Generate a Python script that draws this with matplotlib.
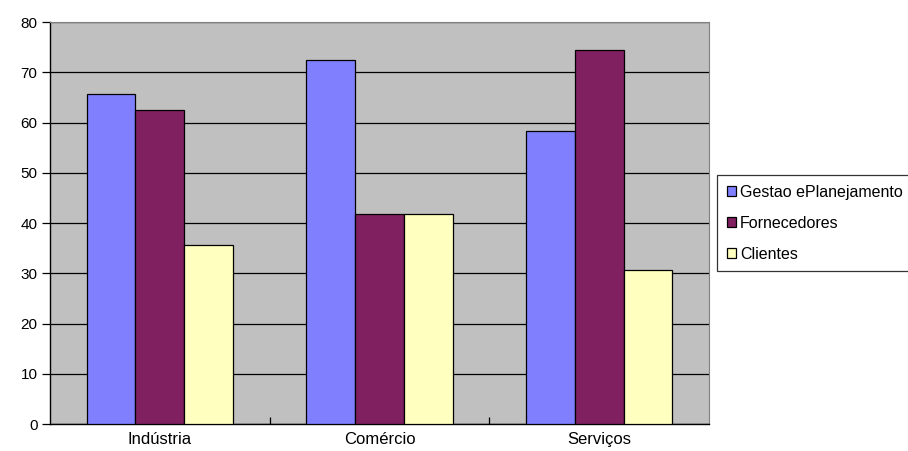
import matplotlib
matplotlib.use("Agg")
import matplotlib.pyplot as plt
import numpy as np

categories = ["Indústria", "Comércio", "Serviços"]
series_names = ["Gestao ePlanejamento", "Fornecedores", "Clientes"]
gestao = [65.6, 72.4, 58.3]
fornecedores = [62.5, 41.8, 74.4]
clientes = [35.6, 41.8, 30.6]
colors = ["#8080FF", "#802060", "#FFFFC0"]
yticks = [0, 10, 20, 30, 40, 50, 60, 70, 80]

plt.rcParams['font.family'] = ['Liberation Sans', 'DejaVu Sans']

fig = plt.figure(figsize=(9.08, 4.51), dpi=100)
ax = fig.add_axes([50/908, 1-424/451, (709-50)/908, (424-22)/451])
ax.set_facecolor("#C0C0C0")

x = np.arange(len(categories))
group = 3/4.5
w = group/3
for i, (vals, name) in enumerate(zip([gestao, fornecedores, clientes], series_names)):
    ax.bar(x - group/2 + w*i + w/2, vals, width=w, color=colors[i],
           edgecolor="black", linewidth=0.9, label=name, zorder=3)

ax.set_xlim(-0.5, len(categories)-0.5)
ax.set_ylim(0, 80)
ax.set_yticks(yticks)
ax.yaxis.grid(True, color="black", linewidth=0.9, zorder=1)
ax.set_axisbelow(True)

ax.set_xticks(x)
ax.set_xticklabels(categories, fontsize=12)
ax.tick_params(axis='x', length=0, pad=6)
ax.set_xticks(np.arange(0.5, len(categories)-0.5, 1), minor=True)
ax.tick_params(axis='x', which='minor', direction='in', length=5, width=0.9, color='black')
ax.tick_params(axis='y', direction='out', length=6, width=0.9, labelsize=11, pad=3)

for s in ['left', 'bottom']:
    ax.spines[s].set_color('black')
    ax.spines[s].set_linewidth(1.0)
for s in ['top', 'right']:
    ax.spines[s].set_color('#808080')
    ax.spines[s].set_linewidth(0.8)

leg = fig.legend(loc='upper left', bbox_to_anchor=(717/908, 1-175/451),
                 fontsize=11.5, frameon=True, fancybox=False, shadow=False,
                 handlelength=0.58, handleheight=0.58, handletextpad=0.25,
                 labelspacing=1.0, borderpad=0.6, borderaxespad=0)
leg.get_frame().set_edgecolor('black')
leg.get_frame().set_linewidth(0.9)

fig.savefig("out.png", dpi=100)
